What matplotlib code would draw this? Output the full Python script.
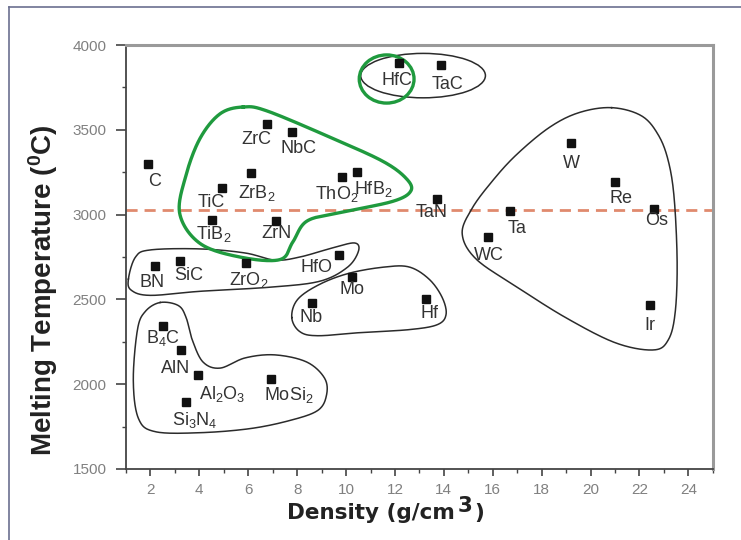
import numpy as np
import matplotlib
matplotlib.use("Agg")
import matplotlib.pyplot as plt
from matplotlib.patches import Ellipse

plt.rcParams['font.family'] = ['Liberation Sans', 'DejaVu Sans']
plt.rcParams['mathtext.default'] = 'regular'

# materials: density (g/cm3), melting temperature (C)
names = ["C", "ZrC", "NbC", "TiC", "ZrB$_2$", "TiB$_2$", "ZrN", "ThO$_2$", "HfB$_2$",
         "HfC", "TaC", "TaN", "W", "Re", "Os", "Ta", "WC", "Ir", "Hf", "Nb", "Mo",
         "HfO", "ZrO$_2$", "BN", "SiC", "B$_4$C", "AlN", "Al$_2$O$_3$", "MoSi$_2$", "Si$_3$N$_4$"]
density = [1.9, 6.76, 7.78, 4.93, 6.1, 4.52, 7.13, 9.85, 10.46,
           12.17, 13.88, 13.72, 19.2, 21.0, 22.6, 16.7, 15.8, 22.42, 13.27, 8.6, 10.26,
           9.7, 5.9, 2.2, 3.22, 2.53, 3.26, 3.95, 6.92, 3.47]
melt_temp = [3300, 3535, 3490, 3160, 3245, 2970, 2960, 3220, 3250,
             3895, 3880, 3095, 3420, 3190, 3035, 3020, 2870, 2470, 2505, 2480, 2630,
             2760, 2715, 2700, 2725, 2345, 2200, 2055, 2030, 1895]
# label offsets from the marker (pixels)
label_dx = [7, -10, 7, -11, 6, 2, 1, -6, 16, -2, 7, -5, 0, 6, 2, 7, 1, 0, 3, -1, 0,
            -22, 3, -3, 8, 0, -6, 24, 18, 8]
label_dy = [-18, -16, -17, -15, -20, -14, -12, -17, -17, -18, -19, -14, -20, -16, -12, -17, -19, -21, -15,
            -15, -12, -12, -17, -17, -14, -12, -18, -19, -16, -18]

threshold = 3025

# group outlines (density, temperature) control points
green_x = [5.8, 6.8, 9.45, 11.5, 12.45, 12.65, 11.9, 9.75, 8.4, 7.82, 7.3, 5.66, 4.03, 3.2, 3.45, 4.03, 4.85]
green_y = [3635, 3610, 3450, 3315, 3215, 3140, 3078, 3012, 2962, 2838, 2735, 2750, 2830, 3005, 3230, 3450, 3595]
bn_x = [1.1, 1.39, 2.0, 4.03, 5.87, 7.09, 8.11, 9.45, 10.35, 10.51, 10.06, 8.92, 6.88, 4.03, 2.0, 1.22]
bn_y = [2620, 2750, 2792, 2798, 2774, 2732, 2750, 2804, 2833, 2786, 2690, 2607, 2572, 2548, 2524, 2554]
nb_x = [7.78, 8.02, 8.92, 10.14, 11.57, 12.59, 13.4, 13.93, 14.09, 13.73, 12.59, 10.55, 8.84, 8.11]
nb_y = [2393, 2500, 2589, 2655, 2691, 2691, 2619, 2512, 2411, 2351, 2322, 2304, 2286, 2310]
low_x = [2.4, 3.14, 3.46, 3.71, 4.15, 4.85, 5.87, 7.09, 8.39, 9.12, 9.2, 8.84, 7.7, 6.07, 4.03,
         2.2, 1.51, 1.3, 1.47, 1.79]
low_y = [2482, 2464, 2393, 2262, 2131, 2095, 2155, 2173, 2131, 2036, 1935, 1845, 1786, 1738, 1714,
         1720, 1798, 2024, 2322, 2429]
big_x = [20.86, 19.51, 18.29, 16.95, 15.97, 15.15, 14.75, 15.32, 16.95, 18.98, 21.02, 22.57,
         23.18, 23.46, 23.54, 23.42, 23.18, 22.77, 22.08]
big_y = [3631, 3601, 3512, 3351, 3196, 3036, 2887, 2738, 2577, 2393, 2244, 2202,
         2262, 2423, 2720, 3095, 3316, 3470, 3583]


def smooth_closed(xs, ys, n=24):
    p = np.column_stack([xs, ys]).astype(float)
    t = np.linspace(0, 1, n, endpoint=False)[:, None]
    segs = []
    for i in range(len(p)):
        p0, p1, p2, p3 = p[i - 1], p[i], p[(i + 1) % len(p)], p[(i + 2) % len(p)]
        segs.append(0.5 * (2 * p1 + (-p0 + p2) * t + (2 * p0 - 5 * p1 + 4 * p2 - p3) * t ** 2
                           + (-p0 + 3 * p1 - 3 * p2 + p3) * t ** 3))
    segs.append(p[:1])
    c = np.vstack(segs)
    return c[:, 0], c[:, 1]


fig = plt.figure(figsize=(7.41, 5.40), dpi=100)
ax = fig.add_axes([0.170, 0.1315, 0.792, 0.785])

outline_color = '#2b2b2b'
for xs, ys in [(bn_x, bn_y), (nb_x, nb_y), (low_x, low_y), (big_x, big_y)]:
    sx, sy = smooth_closed(xs, ys)
    ax.plot(sx, sy, color=outline_color, lw=1.1, zorder=2)
ax.add_patch(Ellipse((13.15, 3820), 5.1, 262, fill=False, ec=outline_color, lw=1.1, zorder=2))

ax.axhline(threshold, color='#e08a6e', lw=2, ls=(0, (4, 2.5)), zorder=1)

green = '#1f9a3e'
sx, sy = smooth_closed(green_x, green_y)
ax.plot(sx, sy, color=green, lw=2.4, zorder=3)
ax.add_patch(Ellipse((11.66, 3800), 2.24, 284, fill=False, ec=green, lw=2.4, zorder=3))

ax.plot(density, melt_temp, 's', color='#111111', ms=6, ls='none', zorder=4)
for name, x, y, dx, dy in zip(names, density, melt_temp, label_dx, label_dy):
    ax.annotate(name, (x, y), xytext=(dx, dy), textcoords='offset pixels',
                ha='center', va='center', fontsize=13, color='#333333', zorder=5)

ax.set_xlim(1, 25)
ax.set_ylim(1500, 4000)
ax.set_xticks(range(2, 25, 2))
ax.set_xticks(range(1, 26, 2), minor=True)
ax.set_yticks(range(1500, 4001, 500))
ax.set_yticks(range(1750, 4000, 500), minor=True)
ax.tick_params(which='major', direction='out', width=1.2, color='#444444',
               labelsize=11, labelcolor='#808080')
ax.tick_params(axis='x', which='major', length=5, pad=5)
ax.tick_params(axis='y', which='major', length=7, pad=7)
ax.tick_params(which='minor', direction='out', length=3, width=1, color='#444444')
ax.tick_params(top=False, right=False, which='both')

for side in ['left', 'bottom']:
    ax.spines[side].set_color('#444444')
    ax.spines[side].set_linewidth(1.3)
for side in ['top', 'right']:
    ax.spines[side].set_color('#9a9a9a')
    ax.spines[side].set_linewidth(2.2)

ax.set_ylabel('Melting Temperature ($^0$C)', fontsize=20, fontweight='bold', color='#222222')
ax.yaxis.set_label_coords(-0.112, 0.422)

# x label with a full-size raised "3"
xl_style = dict(fontsize=15.5, fontweight='bold', color='#222222', family='DejaVu Sans')
t1 = fig.text(287 / 741, 21 / 540, 'Density (g/cm', va='baseline', ha='left', **xl_style)
t2 = ax.annotate('3', xy=(1, 28), xycoords=(t1, 'figure pixels'), xytext=(3, 0),
                 textcoords='offset pixels', va='baseline', ha='left', **xl_style)
ax.annotate(')', xy=(1, 21), xycoords=(t2, 'figure pixels'), xytext=(2, 0),
            textcoords='offset pixels', va='baseline', ha='left', **xl_style)

# thin frame around the figure (top and left edges)
fig.add_artist(plt.Line2D([9 / 741, 9 / 741], [0, 1 - 7 / 540], transform=fig.transFigure,
                          color='#6b7090', lw=1.2))
fig.add_artist(plt.Line2D([9 / 741, 1], [1 - 7 / 540, 1 - 7 / 540], transform=fig.transFigure,
                          color='#6b7090', lw=1.2))

fig.savefig('out.png', dpi=100)
